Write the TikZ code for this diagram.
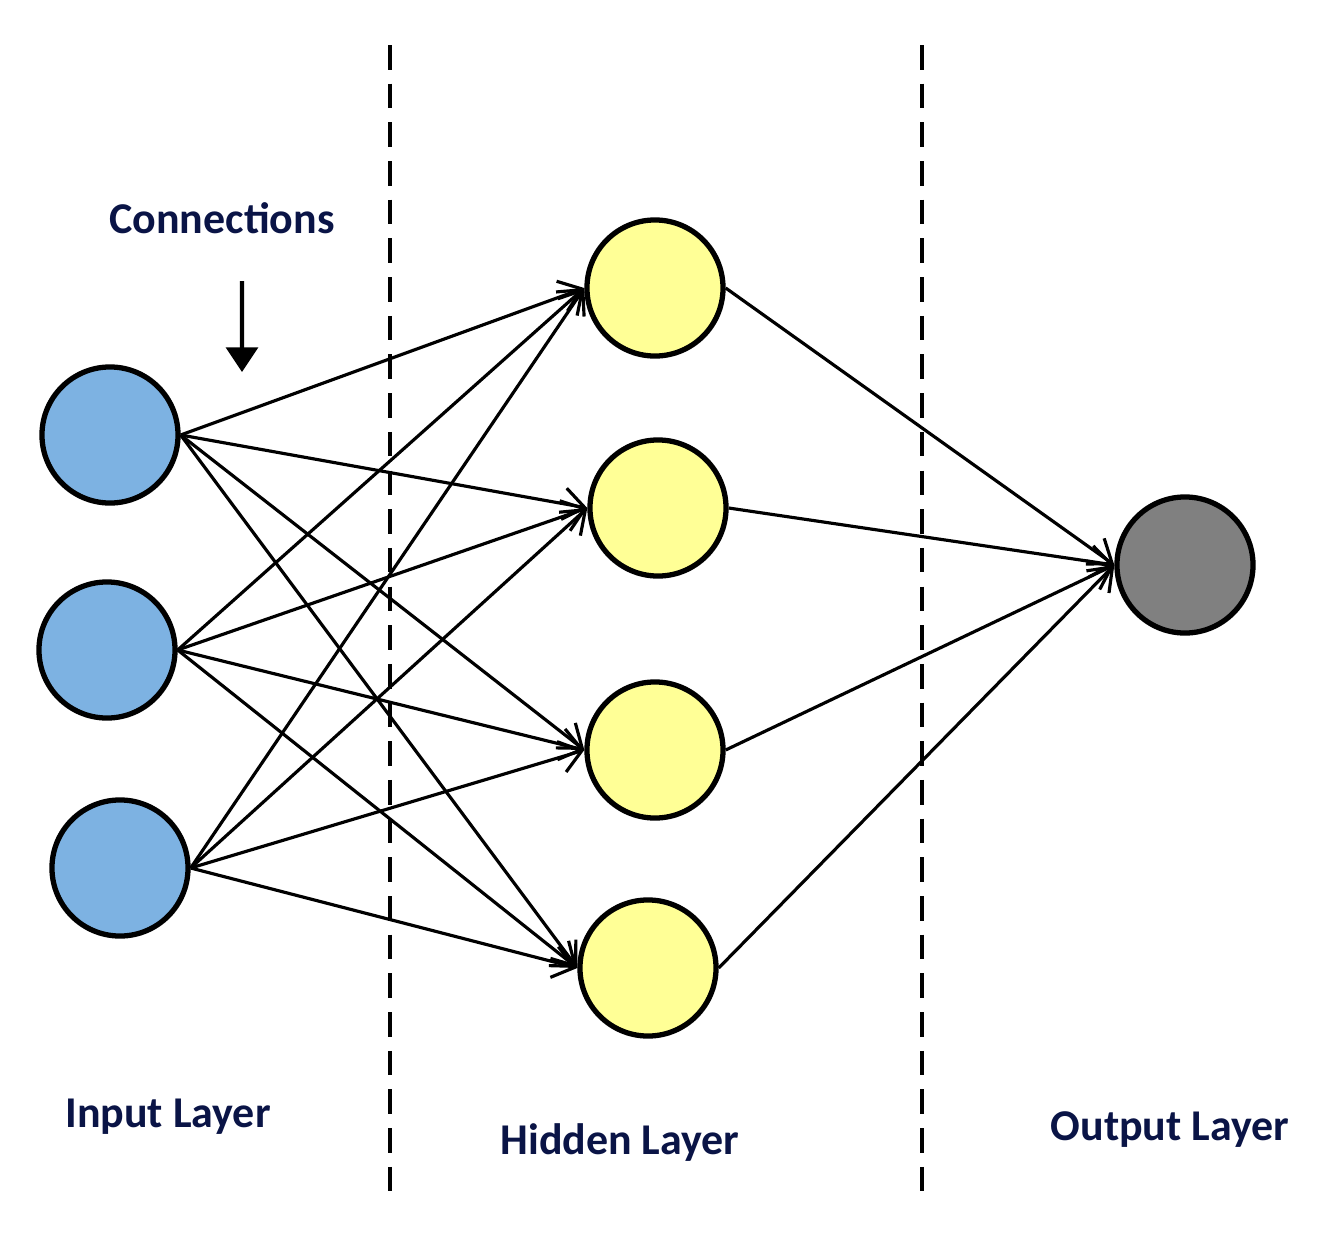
\documentclass[tikz,border=0pt]{standalone}
\usepackage{fontspec}
\setmainfont{Carlito}
\usetikzlibrary{arrows.meta}
\definecolor{inblue}{RGB}{125,178,226}
\definecolor{hidyel}{RGB}{255,255,150}
\definecolor{outgray}{RGB}{128,128,128}
\definecolor{labnavy}{RGB}{10,20,70}
\tikzset{
  neuron/.style={circle, draw=black, line width=1.5pt, minimum size=1.36cm, inner sep=0pt},
  conn/.style={line width=0.9pt, -{Straight Barb[length=6pt,width=9pt,line width=0.9pt]}},
  layerlab/.style={font=\bfseries\fontsize{12.5}{14}\selectfont, text=labnavy}
}
\begin{document}
\begin{tikzpicture}[x=0.01cm,y=-0.01cm]
\useasboundingbox (0,0) rectangle (1344,1239);

% dashed separators
\coordinate (d1t) at (390,45);  \coordinate (d1b) at (390,1200);
\coordinate (d2t) at (922,45);  \coordinate (d2b) at (922,1200);
\draw[line width=0.9pt, dash pattern=on 7pt off 4pt] (d1t) -- (d1b);
\draw[line width=0.9pt, dash pattern=on 7pt off 4pt] (d2t) -- (d2b);

% input layer
\node[neuron, fill=inblue] (i1) at (110,435) {};
\node[neuron, fill=inblue] (i2) at (107,650) {};
\node[neuron, fill=inblue] (i3) at (120,868) {};

% hidden layer
\node[neuron, fill=hidyel] (h1) at (655,288) {};
\node[neuron, fill=hidyel] (h2) at (658,508) {};
\node[neuron, fill=hidyel] (h3) at (655,750) {};
\node[neuron, fill=hidyel] (h4) at (648,968) {};

% output layer
\node[neuron, fill=outgray] (o1) at (1185,565) {};

% connections
\foreach \i in {1,2,3} {
  \foreach \h in {1,2,3,4} {
    \draw[conn] (i\i.east) -- (h\h.west);
  }
}
\foreach \h in {1,2,3,4} {
  \draw[conn] (h\h.east) -- (o1.west);
}

% labels
\node[layerlab] (conlab) at (222,218) {Connections};
\coordinate (conend) at (242,372);
\draw[line width=1.2pt, -{Triangle[length=7pt,width=9pt]}] ([xshift=0.2cm,yshift=-0.35cm]conlab.south) -- (conend);

\node[layerlab] (inlab)  at (168,1117) {Input Layer};
\node[layerlab] (hidlab) at (620,1143) {Hidden Layer};
\node[layerlab] (outlab) at (1170,1130) {Output Layer};
\end{tikzpicture}
\end{document}
